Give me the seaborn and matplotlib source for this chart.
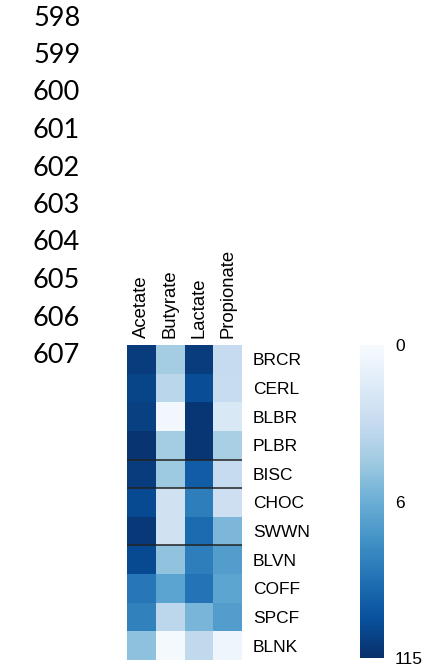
import numpy as np
import pandas as pd
import matplotlib
matplotlib.use("Agg")
import matplotlib.pyplot as plt
from matplotlib.colors import TwoSlopeNorm
import seaborn as sns

# Sample sites (rows) and short-chain fatty acids (columns)
sites = ["BRCR", "CERL", "BLBR", "PLBR", "BISC", "CHOC", "SWWN",
         "BLVN", "COFF", "SPCF", "BLNK"]
acids = ["Acetate", "Butyrate", "Lactate", "Propionate"]

acetate = [104, 98, 102, 111, 104, 93, 108, 93, 56, 47, 5.0]
butyrate = [4.3, 3.5, 0.4, 4.3, 4.5, 2.4, 2.4, 4.9, 17, 3.4, 0.2]
lactate = [104, 91, 110, 110, 78, 50, 65, 50, 58, 5.6, 3.2]
propionate = [3.0, 2.9, 1.8, 4.1, 3.0, 2.6, 5.5, 23, 15, 23, 0.6]

# Group boundaries drawn as horizontal rules (row index below which a line is drawn)
group_breaks = [4, 5, 7]

# Manuscript line numbers shown down the left margin
line_numbers = list(range(598, 608))

df = pd.DataFrame({"Acetate": acetate, "Butyrate": butyrate,
                   "Lactate": lactate, "Propionate": propionate},
                  index=sites)[acids]

W, H = 429, 668
fig = plt.figure(figsize=(W / 100, H / 100), dpi=100)
fig.patch.set_facecolor("white")

for i, n in enumerate(line_numbers):
    y = 18 + i * 37.5
    fig.text(33 / W, 1 - y / H, str(n), fontsize=19.5, family="Lato",
             va="center", ha="left", color="black")

ax = fig.add_axes([127 / W, 1 - 660 / H, 115 / W, 315 / H])
cax = fig.add_axes([360 / W, 1 - 658 / H, 24 / W, 313 / H])

norm = TwoSlopeNorm(vmin=0, vcenter=6, vmax=115)
sns.heatmap(df, ax=ax, cmap="Blues", norm=norm, cbar=True, cbar_ax=cax,
            linewidths=0, square=False)

ax.xaxis.tick_top()
ax.set_xticklabels(acids, rotation=90, va="bottom", ha="center",
                   fontsize=13.3, family="Liberation Sans")
ax.set_yticklabels(sites, rotation=0, fontsize=12.5, family="Liberation Sans")
ax.yaxis.tick_right()
ax.tick_params(axis="y", length=0, pad=8)
ax.tick_params(axis="x", length=0, pad=5)
ax.set_xlabel("")
ax.set_ylabel("")

for b in group_breaks:
    ax.axhline(b, color="#222222", lw=1.1)

cax.set_yticks([0, 6, 115])
cax.set_yticklabels(["0", "6", "115"], fontsize=12.5, family="Liberation Sans")
cax.invert_yaxis()
cax.tick_params(length=0, pad=8)
for s in cax.spines.values():
    s.set_visible(False)

fig.savefig("out.png", dpi=100, facecolor="white")
